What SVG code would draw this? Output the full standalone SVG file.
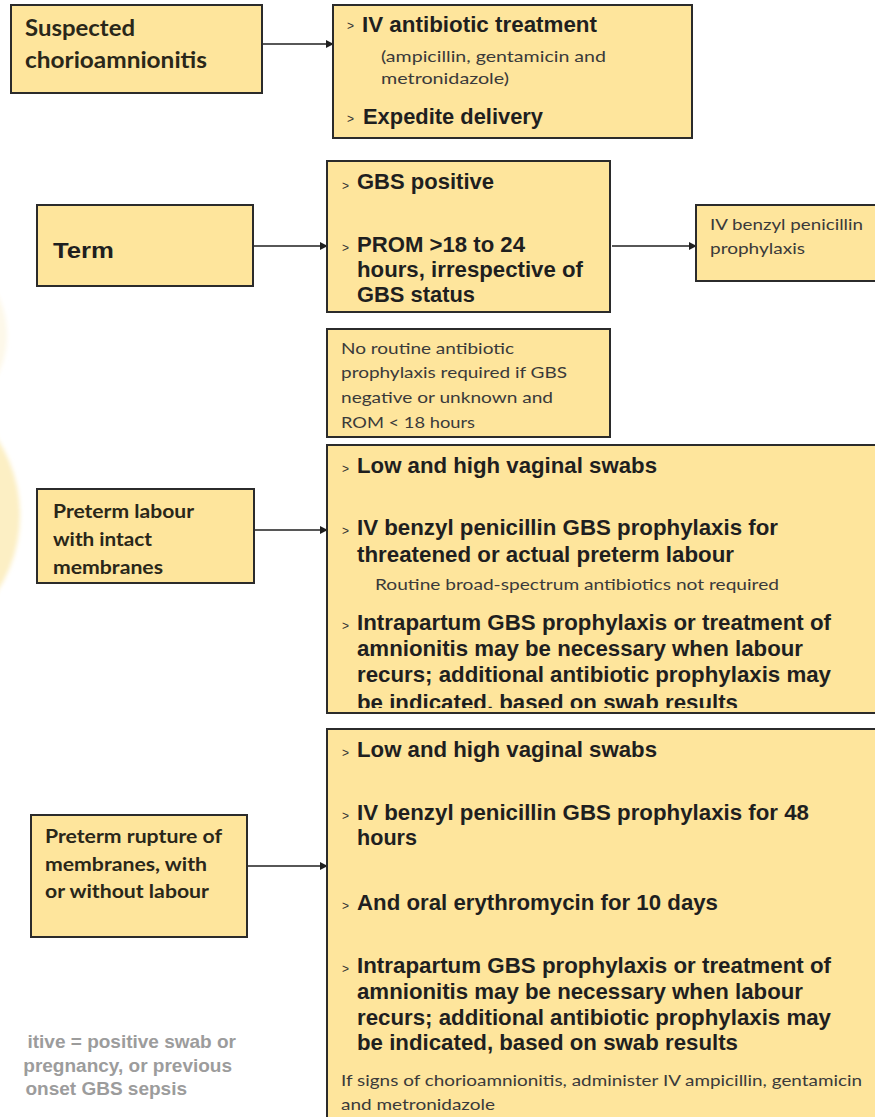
<svg xmlns="http://www.w3.org/2000/svg" width="875" height="1117" viewBox="0 0 875 1117">
  <style>
    .box { fill: #fee59c; stroke: #2b2b2b; stroke-width: 2; }
    .ar { font-family: "Liberation Sans", Arial, sans-serif; font-weight: bold; font-size: 22px; fill: #1f1f1f; }
    .cb { font-family: Lato, "Open Sans", sans-serif; font-weight: bold; fill: #2a2719; }
    .cn { font-family: Lato, "Open Sans", sans-serif; font-size: 15px; fill: #3a3a3a; }
    .bul { font-family: "Liberation Sans", Arial, sans-serif; font-size: 12px; fill: #333; }
    .note { font-family: "Liberation Sans", Arial, sans-serif; font-weight: bold; font-size: 19px; fill: #9c9c9c; }
    .conn line { stroke: #1f1f1f; stroke-width: 1.6; marker-end: url(#arrow); }
  </style>
  <defs>
    <marker id="arrow" viewBox="0 0 10 10" refX="9" refY="5" markerWidth="5" markerHeight="5" orient="auto" markerUnits="strokeWidth">
      <path d="M0,0 L10,5 L0,10 z" fill="#1f1f1f"/>
    </marker>
    <clipPath id="clip3"><rect x="327" y="445" width="560" height="263"/></clipPath>
    <filter id="soft" x="-10%" y="-10%" width="120%" height="120%">
      <feGaussianBlur stdDeviation="2"/>
    </filter>
  </defs>
  <rect width="875" height="1117" fill="#ffffff"/>

  <!-- background decorative shapes -->
  <circle cx="-120" cy="515" r="140" fill="#fcefc4" filter="url(#soft)"/>
  <circle cx="-84" cy="335" r="91" fill="#fdf8e9" filter="url(#soft)"/>

  <g id="connectors" class="conn">
    <line x1="262" y1="44" x2="333" y2="44"/>
    <line x1="253" y1="246" x2="327" y2="246"/>
    <line x1="612" y1="246" x2="696" y2="246"/>
    <line x1="254" y1="530" x2="327" y2="530"/>
    <line x1="247" y1="866" x2="327" y2="866"/>
  </g>

  <g id="suspected">
    <rect class="box" x="11" y="5" width="251" height="88"/>
    <text class="cb" font-size="23" x="25" y="36" textLength="110" lengthAdjust="spacingAndGlyphs">Suspected</text>
    <text class="cb" font-size="23" x="25" y="68" textLength="182" lengthAdjust="spacingAndGlyphs">chorioamnionitis</text>
  </g>

  <g id="iv-treatment">
    <rect class="box" x="333" y="5" width="359" height="133"/>
    <text class="bul" x="347" y="30">&gt;</text>
    <text class="ar" x="362" y="32" textLength="235" lengthAdjust="spacingAndGlyphs">IV antibiotic treatment</text>
    <text class="cn" x="381" y="62" textLength="225" lengthAdjust="spacingAndGlyphs">(ampicillin, gentamicin and</text>
    <text class="cn" x="381" y="84" textLength="128" lengthAdjust="spacingAndGlyphs">metronidazole)</text>
    <text class="bul" x="347" y="123">&gt;</text>
    <text class="ar" x="363" y="124" textLength="180" lengthAdjust="spacingAndGlyphs">Expedite delivery</text>
  </g>

  <g id="term">
    <rect class="box" x="37" y="205" width="216" height="81"/>
    <text class="ar" font-size="24" x="53" y="258" textLength="61" lengthAdjust="spacingAndGlyphs">Term</text>
  </g>

  <g id="gbs">
    <rect class="box" x="327" y="161" width="283" height="151"/>
    <text class="bul" x="342" y="190">&gt;</text>
    <text class="ar" x="357" y="189" textLength="137" lengthAdjust="spacingAndGlyphs">GBS positive</text>
    <text class="bul" x="342" y="252">&gt;</text>
    <text class="ar" x="357" y="252" textLength="168" lengthAdjust="spacingAndGlyphs">PROM &gt;18 to 24</text>
    <text class="ar" x="357" y="277" textLength="226" lengthAdjust="spacingAndGlyphs">hours, irrespective of</text>
    <text class="ar" x="357" y="302" textLength="118" lengthAdjust="spacingAndGlyphs">GBS status</text>
  </g>

  <g id="benzyl">
    <rect class="box" x="696" y="205" width="190" height="76"/>
    <text class="cn" x="710" y="230" textLength="153" lengthAdjust="spacingAndGlyphs">IV benzyl penicillin</text>
    <text class="cn" x="710" y="254" textLength="95" lengthAdjust="spacingAndGlyphs">prophylaxis</text>
  </g>

  <g id="no-routine">
    <rect class="box" x="327" y="329" width="283" height="108"/>
    <text class="cn" x="341" y="354" textLength="173" lengthAdjust="spacingAndGlyphs">No routine antibiotic</text>
    <text class="cn" x="341" y="378" textLength="226" lengthAdjust="spacingAndGlyphs">prophylaxis required if GBS</text>
    <text class="cn" x="341" y="403" textLength="212" lengthAdjust="spacingAndGlyphs">negative or unknown and</text>
    <text class="cn" x="341" y="428" textLength="134" lengthAdjust="spacingAndGlyphs">ROM &lt; 18 hours</text>
  </g>

  <g id="preterm-labour">
    <rect class="box" x="37" y="489" width="217" height="94"/>
    <text class="cb" font-size="19" x="53" y="518" textLength="141" lengthAdjust="spacingAndGlyphs">Preterm labour</text>
    <text class="cb" font-size="19" x="53" y="546" textLength="99" lengthAdjust="spacingAndGlyphs">with intact</text>
    <text class="cb" font-size="19" x="53" y="574" textLength="110" lengthAdjust="spacingAndGlyphs">membranes</text>
  </g>

  <g id="preterm-labour-actions">
    <rect class="box" x="327" y="445" width="560" height="268"/>
    <g clip-path="url(#clip3)">
      <text class="bul" x="342" y="473">&gt;</text>
      <text class="ar" x="357" y="473" textLength="300" lengthAdjust="spacingAndGlyphs">Low and high vaginal swabs</text>
      <text class="bul" x="342" y="535">&gt;</text>
      <text class="ar" x="357" y="535" textLength="421" lengthAdjust="spacingAndGlyphs">IV benzyl penicillin GBS prophylaxis for</text>
      <text class="ar" x="357" y="562" textLength="377" lengthAdjust="spacingAndGlyphs">threatened or actual preterm labour</text>
      <text class="cn" x="375" y="590" textLength="404" lengthAdjust="spacingAndGlyphs">Routine broad-spectrum antibiotics not required</text>
      <text class="bul" x="342" y="630">&gt;</text>
      <text class="ar" x="357" y="630" textLength="474" lengthAdjust="spacingAndGlyphs">Intrapartum GBS prophylaxis or treatment of</text>
      <text class="ar" x="357" y="656" textLength="446" lengthAdjust="spacingAndGlyphs">amnionitis may be necessary when labour</text>
      <text class="ar" x="357" y="682" textLength="474" lengthAdjust="spacingAndGlyphs">recurs; additional antibiotic prophylaxis may</text>
      <text class="ar" x="357" y="710" textLength="381" lengthAdjust="spacingAndGlyphs">be indicated, based on swab results</text>
    </g>
  </g>

  <g id="preterm-rupture">
    <rect class="box" x="31" y="815" width="216" height="122"/>
    <text class="cb" font-size="19" x="45" y="843" textLength="177" lengthAdjust="spacingAndGlyphs">Preterm rupture of</text>
    <text class="cb" font-size="19" x="45" y="871" textLength="162" lengthAdjust="spacingAndGlyphs">membranes, with</text>
    <text class="cb" font-size="19" x="45" y="898" textLength="164" lengthAdjust="spacingAndGlyphs">or without labour</text>
  </g>

  <g id="preterm-rupture-actions">
    <rect class="box" x="327" y="729" width="560" height="400"/>
    <text class="bul" x="342" y="757">&gt;</text>
    <text class="ar" x="357" y="757" textLength="300" lengthAdjust="spacingAndGlyphs">Low and high vaginal swabs</text>
    <text class="bul" x="342" y="820">&gt;</text>
    <text class="ar" x="357" y="820" textLength="452" lengthAdjust="spacingAndGlyphs">IV benzyl penicillin GBS prophylaxis for 48</text>
    <text class="ar" x="357" y="845" textLength="60" lengthAdjust="spacingAndGlyphs">hours</text>
    <text class="bul" x="342" y="910">&gt;</text>
    <text class="ar" x="357" y="910" textLength="361" lengthAdjust="spacingAndGlyphs">And oral erythromycin for 10 days</text>
    <text class="bul" x="342" y="973">&gt;</text>
    <text class="ar" x="357" y="973" textLength="474" lengthAdjust="spacingAndGlyphs">Intrapartum GBS prophylaxis or treatment of</text>
    <text class="ar" x="357" y="999" textLength="446" lengthAdjust="spacingAndGlyphs">amnionitis may be necessary when labour</text>
    <text class="ar" x="357" y="1025" textLength="474" lengthAdjust="spacingAndGlyphs">recurs; additional antibiotic prophylaxis may</text>
    <text class="ar" x="357" y="1050" textLength="381" lengthAdjust="spacingAndGlyphs">be indicated, based on swab results</text>
    <text class="cn" x="341" y="1086" textLength="521" lengthAdjust="spacingAndGlyphs">If signs of chorioamnionitis, administer IV ampicillin, gentamicin</text>
    <text class="cn" x="341" y="1110" textLength="154" lengthAdjust="spacingAndGlyphs">and metronidazole</text>
  </g>

  <g id="footnote">
    <text class="note" x="236" y="1048" text-anchor="end">itive = positive swab or</text>
    <text class="note" x="232" y="1072" text-anchor="end">pregnancy, or previous</text>
    <text class="note" x="187" y="1095" text-anchor="end">onset GBS sepsis</text>
  </g>
</svg>
